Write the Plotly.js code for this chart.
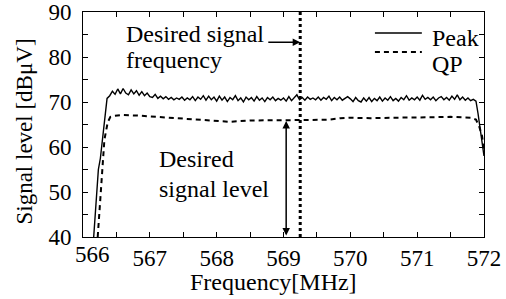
<!DOCTYPE html>
<html>
<head>
<meta charset="utf-8">
<script src="https://cdn.plot.ly/plotly-3.0.1.min.js"></script>
<style>html,body{margin:0;padding:0;background:#fff;}#chart{width:506px;height:299px;}</style>
</head>
<body>
<div id="chart"></div>
<script>
// ---- data ----
const peakRiseFreq = [566.16, 566.20, 566.23, 566.26, 566.30, 566.33, 566.36];
const peakRiseLevel = [40, 48, 55, 57.5, 62.5, 67, 70.8];
const peakSweepStart = 566.40;   // MHz
const peakSweepStep = 0.04;      // MHz
const peakSweepLevel = [
  71.4, 72.4, 71.7, 72.9, 71.8, 73.0, 72.0, 71.6, 72.7, 71.8, 72.5, 71.5, 72.3, 71.4, 72.0,
  71.2, 71.0, 71.7, 70.8, 71.3, 70.7, 71.2, 70.6, 71.0, 70.5, 70.9, 70.6, 71.1, 70.4, 70.9, 70.5, 71.2, 70.3, 71.1, 70.6, 71.4, 70.4, 71.3, 70.5, 71.1,
  70.2, 71.3, 70.4, 71.1, 70.1, 71.0, 70.5, 71.4, 70.3, 70.9, 70.0, 71.1, 70.5, 71.0, 70.2, 71.2, 70.4, 70.9, 70.1, 71.0, 70.5, 71.1, 70.3, 70.8, 70.4,
  70.9, 70.2, 71.2, 70.3, 70.9, 71.6, 70.5, 71.0, 70.4, 71.1, 70.6, 70.9, 70.5, 71.1, 70.4, 71.0, 70.6, 71.3, 70.3, 71.0, 70.5, 71.1, 70.4, 70.9, 71.2,
  70.7, 70.1, 71.0, 70.3, 70.0, 70.9, 70.2, 71.0, 70.1, 70.8, 70.3, 71.1, 70.2, 70.9, 70.4, 71.2, 70.3, 70.8, 70.2, 71.0, 70.5, 71.4, 70.4, 70.9, 70.5,
  71.1, 70.4, 71.5, 70.6, 71.0, 70.5, 71.1, 70.3, 70.9, 71.2, 70.5, 71.0, 70.4, 71.3, 70.6, 71.6, 70.5, 71.1, 70.4, 70.9, 70.3, 70.6, 70.2
];
const peakFallFreq = [571.91, 571.94, 571.97, 572.0];
const peakFallLevel = [67.5, 64.5, 61.5, 58];

const qpFreq = [566.22, 566.27, 566.32, 566.37, 566.41, 566.45, 566.6, 566.8, 567.0, 567.3, 567.6, 567.9, 568.2, 568.5, 568.8, 569.1, 569.4, 569.7, 569.85, 570.0, 570.3, 570.6, 570.9, 571.2, 571.5, 571.8, 571.88, 571.93, 571.97, 572.0];
const qpLevel = [40, 51, 61.6, 65.5, 66.7, 66.9, 67.1, 67.0, 66.8, 66.6, 66.3, 65.9, 65.6, 65.9, 65.9, 65.9, 66.0, 66.1, 66.4, 66.5, 66.4, 66.5, 66.5, 66.6, 66.7, 66.5, 66.1, 64.5, 62.5, 59.5];

const seriesNames = ['Peak', 'QP'];
const desiredFreq = 569.25;
const desiredLevel = 65.8;
const levelArrowFreq = 569.04;
const freqArrowStart = 568.75;
const freqArrowLevel = 83.3;

const xTickVals = [566, 566.5, 567, 567.5, 568, 568.5, 569, 569.5, 570, 570.5, 571, 571.5, 572];
const xTickText = ['566', '', '567', '', '568', '', '569', '', '570', '', '571', '', '572'];
const yTickVals = [40, 45, 50, 55, 60, 65, 70, 75, 80, 85, 90];
const yTickText = ['40', '', '50', '', '60', '', '70', '', '80', '', '90'];
const xTitle = 'Frequency[MHz]';
const yTitle = 'Signal level [dBμV]';

// ---- build traces ----
const peakFreq = peakRiseFreq.slice();
const peakLevel = peakRiseLevel.slice();
peakSweepLevel.forEach((v, i) => { peakFreq.push(+(peakSweepStart + i * peakSweepStep).toFixed(3)); peakLevel.push(v); });
peakFallFreq.forEach((f, i) => { peakFreq.push(f); peakLevel.push(peakFallLevel[i]); });

const FONT = '"Liberation Serif", "DejaVu Serif", "Times New Roman", Times, serif';
const F = {family: FONT, size: 24, color: '#000'};
const FT = {family: FONT, size: 23, color: '#000'};
const QP_DASH = '5px,4px';
const data = [
  {x: peakFreq, y: peakLevel, type: 'scatter', mode: 'lines', name: seriesNames[0],
   line: {color: '#000', width: 1.4}},
  {x: qpFreq, y: qpLevel, type: 'scatter', mode: 'lines', name: seriesNames[1],
   line: {color: '#000', width: 2, dash: QP_DASH}}
];

// the first x label is nudged right (as in the reference) so it clears the "40" label
const xTickTextShown = xTickText.map((t, i) => i === 0 ? '' : t);

const axisCommon = {
  showgrid: false, zeroline: false, showline: true, linecolor: '#000', linewidth: 1,
  ticks: 'inside', ticklen: 5, tickcolor: '#000', mirror: 'allticks',
  tickfont: FT, tickmode: 'array', ticklabeloverflow: 'allow'
};

function txt(text, x, y, xref, yref) {
  return {x: x, y: y, xref: xref, yref: yref, xanchor: 'left', yanchor: 'middle', align: 'left',
          text: text, showarrow: false, font: F};
}

const layout = {
  width: 506, height: 299,
  margin: {l: 83, r: 22, t: 12, b: 62},
  paper_bgcolor: '#fff', plot_bgcolor: '#fff',
  font: F,
  xaxis: Object.assign({}, axisCommon, {
    range: [566, 572], tickvals: xTickVals, ticktext: xTickTextShown
  }),
  yaxis: Object.assign({}, axisCommon, {
    range: [40, 90], tickvals: yTickVals, ticktext: yTickText, ticklabelstandoff: 6
  }),
  showlegend: false,
  shapes: [
    {type: 'line', xref: 'x', yref: 'y', x0: desiredFreq, x1: desiredFreq, y0: 40, y1: 90,
     line: {color: '#000', width: 3, dash: 'dot'}},
    // legend samples
    {type: 'line', xref: 'paper', yref: 'paper', x0: 0.728, x1: 0.845, y0: 0.907, y1: 0.907,
     line: {color: '#000', width: 1.4}},
    {type: 'line', xref: 'paper', yref: 'paper', x0: 0.728, x1: 0.845, y0: 0.822, y1: 0.822,
     line: {color: '#000', width: 2, dash: QP_DASH}}
  ],
  annotations: [
    // first x tick label
    {x: xTickVals[0], y: -0.078, xref: 'x', yref: 'paper', xanchor: 'center', yanchor: 'middle',
     xshift: 9.5, text: xTickText[0], showarrow: false, font: FT},
    // axis titles
    {x: 0.476, y: -0.2, xref: 'paper', yref: 'paper', xanchor: 'center', yanchor: 'middle',
     text: xTitle, showarrow: false, font: F},
    {x: -0.147, y: 0.469, xref: 'paper', yref: 'paper', xanchor: 'center', yanchor: 'middle',
     text: yTitle, textangle: -90, showarrow: false, font: FT},
    // legend labels
    txt(seriesNames[0], 0.866, 0.884, 'paper', 'paper'),
    txt(seriesNames[1], 0.866, 0.769, 'paper', 'paper'),
    // callouts
    txt('Desired signal', 566.62, 85.2, 'x', 'y'),
    txt('frequency', 566.62, 79.3, 'x', 'y'),
    txt('Desired', 567.10, 57.3, 'x', 'y'),
    txt('signal level', 567.10, 50.7, 'x', 'y'),
    {x: desiredFreq, y: freqArrowLevel, ax: freqArrowStart, ay: freqArrowLevel, xref: 'x', yref: 'y', axref: 'x', ayref: 'y',
     text: '', showarrow: true, arrowhead: 2, arrowsize: 1, arrowwidth: 1.5, arrowcolor: '#000'},
    {x: levelArrowFreq, y: desiredLevel, ax: levelArrowFreq, ay: 40, xref: 'x', yref: 'y', axref: 'x', ayref: 'y',
     text: '', showarrow: true, arrowhead: 2, arrowside: 'end+start', arrowsize: 1, arrowwidth: 1.5, arrowcolor: '#000'}
  ]
};

Plotly.newPlot('chart', data, layout, {displayModeBar: false, staticPlot: true});
</script>
</body>
</html>
